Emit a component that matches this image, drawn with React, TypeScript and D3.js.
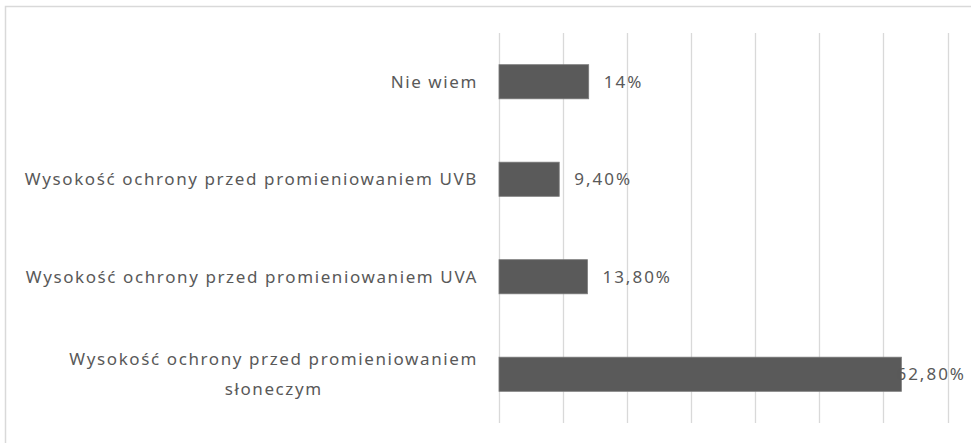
import React, { useEffect, useRef } from "react";
import * as d3 from "d3";

const categories = [
  "Nie wiem",
  "Wysokość ochrony przed promieniowaniem UVB",
  "Wysokość ochrony przed promieniowaniem UVA",
  "Wysokość ochrony przed promieniowaniem słoneczym",
];
const values = [14, 9.4, 13.8, 62.8];
const valueLabels = ["14%", "9,40%", "13,80%", "62,80%"];
const ticks = [0, 10, 20, 30, 40, 50, 60, 70];

const W = 971;
const H = 443;
const FONT = "'Noto Sans', 'Open Sans', sans-serif";
const TEXT = "#595959";

export default function App() {
  const ref = useRef<SVGSVGElement>(null);

  useEffect(() => {
    const svg = d3.select(ref.current);
    svg.selectAll("*").remove();

    const x = d3.scaleLinear().domain([0, 70]).range([499, 947.5]);
    const y = d3
      .scaleBand<string>()
      .domain(categories)
      .range([33, 423])
      .paddingInner(0.65)
      .paddingOuter(0.325);

    svg
      .append("rect")
      .attr("x", 5.5)
      .attr("y", 6.5)
      .attr("width", 1000)
      .attr("height", 500)
      .attr("fill", "#fff")
      .attr("stroke", "#d9d9d9")
      .attr("stroke-width", 1.5);

    svg
      .append("g")
      .selectAll("line")
      .data(ticks)
      .join("line")
      .attr("x1", (d) => Math.round(x(d)) + 0.5)
      .attr("x2", (d) => Math.round(x(d)) + 0.5)
      .attr("y1", 33)
      .attr("y2", 423)
      .attr("stroke", "#d9d9d9")
      .attr("stroke-width", 1.3);

    svg
      .append("g")
      .selectAll("rect")
      .data(categories)
      .join("rect")
      .attr("x", x(0))
      .attr("y", (d) => y(d)!)
      .attr("width", (d, i) => x(values[i]) - x(0))
      .attr("height", y.bandwidth())
      .attr("fill", "#5a5a5a")
      .attr("stroke", "#7a7a7a")
      .attr("stroke-width", 0.8);

    // category labels with wrapping
    const maxW = 470;
    const labelG = svg.append("g");
    categories.forEach((cat) => {
      const t = labelG
        .append("text")
        .attr("text-anchor", "end")
        .attr("font-family", FONT)
        .attr("font-size", 17)
        .attr("letter-spacing", 1.6)
        .attr("fill", TEXT);
      const words = cat.split(" ");
      const lines: string[] = [];
      let cur: string[] = [];
      const probe = t.append("tspan");
      words.forEach((w) => {
        const test = [...cur, w].join(" ");
        probe.text(test);
        const len = (probe.node() as SVGTSpanElement).getComputedTextLength();
        if (len > maxW && cur.length) {
          lines.push(cur.join(" "));
          cur = [w];
        } else cur.push(w);
      });
      lines.push(cur.join(" "));
      probe.remove();
      const cy = y(cat)! + y.bandwidth() / 2;
      const lh = 30;
      lines.forEach((ln, i) => {
        t.append("tspan")
          .attr("x", 478)
          .attr("y", cy + (i - (lines.length - 1) / 2) * lh)
          .attr("dy", "0.35em")
          .text(ln);
      });
      if (lines.length > 1) {
        const spans = t.selectAll<SVGTSpanElement, unknown>("tspan").nodes();
        const widths = spans.map((s) => s.getComputedTextLength());
        const maxLine = Math.max(...widths);
        spans.forEach((s) => {
          d3.select(s)
            .attr("text-anchor", "middle")
            .attr("x", 478 - maxLine / 2);
        });
      }
    });

    // value labels
    svg
      .append("g")
      .selectAll("text")
      .data(categories)
      .join("text")
      .attr("font-family", FONT)
      .attr("font-size", 17)
      .attr("letter-spacing", 2.0)
      .attr("fill", TEXT)
      .attr("dy", "0.35em")
      .attr("y", (d) => y(d)! + y.bandwidth() / 2)
      .text((d, i) => valueLabels[i])
      .each(function (d, i) {
        const el = this as SVGTextElement;
        const len = el.getComputedTextLength();
        let px = x(values[i]) + 15;
        if (px + len > 966) px = 966 - len;
        d3.select(el).attr("x", px);
      });
  }, []);

  return (
    <svg
      ref={ref}
      width={W}
      height={H}
      style={{ position: "absolute", left: 0, top: 0, background: "#fff" }}
    />
  );
}
